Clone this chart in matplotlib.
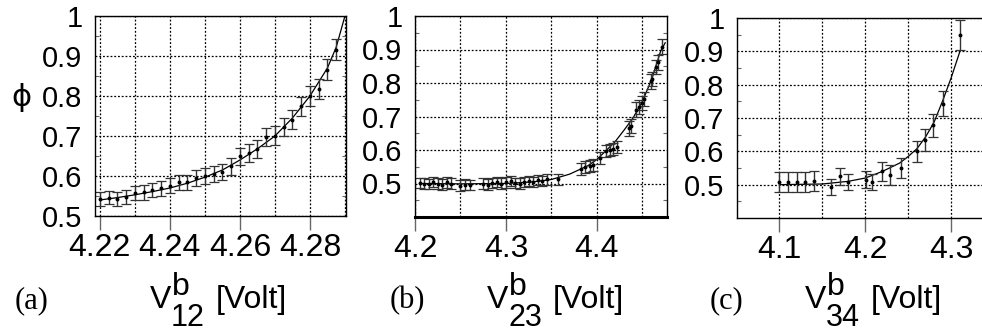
import numpy as np
import matplotlib.pyplot as plt
from matplotlib.ticker import FixedLocator, MultipleLocator, FuncFormatter

plt.rcParams['font.family'] = ['Liberation Sans', 'DejaVu Sans']

# (a) V12
xa = [4.22, 4.2225, 4.225, 4.2275, 4.23, 4.2325, 4.235, 4.2375, 4.24, 4.2425,
      4.245, 4.2475, 4.25, 4.2525, 4.255, 4.2575, 4.26, 4.2625, 4.265, 4.2675,
      4.27, 4.2725, 4.275, 4.2775, 4.28, 4.2825, 4.285, 4.2875]
ya = [0.543, 0.546, 0.543, 0.548, 0.558, 0.559, 0.565, 0.569, 0.576, 0.584,
      0.584, 0.594, 0.599, 0.605, 0.610, 0.624, 0.649, 0.657, 0.667, 0.697,
      0.701, 0.722, 0.741, 0.774, 0.799, 0.818, 0.866, 0.916]
ea = [0.017, 0.017, 0.017, 0.017, 0.018, 0.018, 0.018, 0.018, 0.019, 0.019,
      0.019, 0.020, 0.020, 0.020, 0.021, 0.021, 0.022, 0.022, 0.022, 0.023,
      0.023, 0.023, 0.024, 0.024, 0.025, 0.025, 0.026, 0.027]
fxa = [4.22, 4.225, 4.23, 4.235, 4.24, 4.245, 4.25, 4.255, 4.26, 4.265,
       4.27, 4.275, 4.28, 4.285, 4.2875, 4.29]
fya = [0.540, 0.546, 0.553, 0.561, 0.570, 0.582, 0.597, 0.615, 0.640, 0.668,
       0.700, 0.745, 0.800, 0.870, 0.922, 1.0]

# (b) V23
xb = [4.205, 4.21, 4.215, 4.22, 4.225, 4.23, 4.235, 4.24, 4.25, 4.255, 4.26,
      4.275, 4.28, 4.285, 4.29, 4.295, 4.30, 4.305, 4.31, 4.315, 4.32, 4.325,
      4.33, 4.335, 4.34, 4.345, 4.357,
      4.383, 4.387, 4.392, 4.396, 4.403, 4.41, 4.414, 4.418, 4.422,
      4.435, 4.437, 4.443, 4.446, 4.449, 4.452, 4.459, 4.461, 4.465, 4.467, 4.472]
yb = [0.502, 0.500, 0.498, 0.505, 0.500, 0.497, 0.503, 0.500, 0.494, 0.497, 0.495,
      0.500, 0.497, 0.502, 0.505, 0.500, 0.503, 0.507, 0.502, 0.500, 0.505, 0.508,
      0.504, 0.510, 0.507, 0.512, 0.512,
      0.543, 0.548, 0.552, 0.556, 0.575, 0.596, 0.600, 0.602, 0.608,
      0.665, 0.672, 0.720, 0.728, 0.740, 0.752, 0.805, 0.812, 0.848, 0.862, 0.908]
eb = [0.015] * 27 + [0.018] * 9 + [0.022] * 11
fxb = [4.205, 4.25, 4.30, 4.33, 4.35, 4.37, 4.39, 4.40, 4.41, 4.42, 4.43,
       4.44, 4.45, 4.46, 4.47, 4.475]
fyb = [0.500, 0.499, 0.500, 0.505, 0.512, 0.528, 0.553, 0.572, 0.598, 0.625,
       0.660, 0.697, 0.745, 0.810, 0.895, 0.920]

# (c) V34
xc = [4.10, 4.11, 4.12, 4.13, 4.14, 4.16, 4.17, 4.18, 4.201, 4.208, 4.219,
      4.229, 4.241, 4.26, 4.269, 4.279, 4.29, 4.31]
yc = [0.508, 0.508, 0.508, 0.508, 0.510, 0.493, 0.525, 0.508, 0.515, 0.508,
      0.540, 0.530, 0.550, 0.600, 0.633, 0.678, 0.743, 0.948]
ec = [0.030, 0.030, 0.030, 0.030, 0.030, 0.025, 0.025, 0.025, 0.025, 0.025,
      0.028, 0.030, 0.030, 0.032, 0.033, 0.035, 0.037, 0.045]
fxc = [4.10, 4.15, 4.18, 4.20, 4.22, 4.24, 4.25, 4.26, 4.27, 4.28, 4.29,
       4.30, 4.31]
fyc = [0.500, 0.502, 0.510, 0.520, 0.540, 0.565, 0.585, 0.608, 0.643, 0.688,
       0.752, 0.822, 0.900]

W, H = 982, 334
fig = plt.figure(figsize=(W / 100, H / 100), dpi=100)


def box(l, t, r, b):
    return [l / W, 1 - b / H, (r - l) / W, (b - t) / H]


panels = [
    dict(pos=box(95, 16, 346, 216), x=xa, y=ya, e=ea, fx=fxa, fy=fya,
         xlim=(4.2186, 4.2903), ylim=(0.5, 1.0), major=0.02, minor=0.01,
         fmt='%.2f', letter='(a)', sub='12', lx=15, vx=150),
    dict(pos=box(415, 16, 667, 217), x=xb, y=yb, e=eb, fx=fxb, fy=fyb,
         xlim=(4.2, 4.477), ylim=(0.4, 1.0), major=0.1, minor=0.05,
         fmt='%.1f', letter='(b)', sub='23', lx=390, vx=487),
    dict(pos=box(737, 18, 990, 218), x=xc, y=yc, e=ec, fx=fxc, fy=fyc,
         xlim=(4.0506, 4.345), ylim=(0.4, 1.0), major=0.1, minor=0.05,
         fmt='%.1f', letter='(c)', sub='34', lx=710, vx=805),
]


def yfmt(v, p):
    return '1' if abs(v - 1) < 1e-9 else '%.1f' % v


for i, p in enumerate(panels):
    ax = fig.add_axes(p['pos'])
    ax.plot(p['fx'], p['fy'], color='k', lw=0.9)
    ax.errorbar(p['x'], p['y'], yerr=p['e'], fmt='o', ms=1.8, color='k',
                ecolor='0.2', elinewidth=1.0, capsize=3.5, capthick=0.9)
    ax.set_xlim(*p['xlim'])
    ax.set_ylim(*p['ylim'])
    ax.xaxis.set_major_locator(MultipleLocator(p['major']))
    ax.xaxis.set_minor_locator(MultipleLocator(p['minor']))
    ax.xaxis.set_major_formatter(FuncFormatter(lambda v, q, f=p['fmt']: f % v))
    ax.yaxis.set_major_locator(FixedLocator([0.5, 0.6, 0.7, 0.8, 0.9, 1.0]))
    ax.yaxis.set_minor_locator(FixedLocator([0.45, 0.55, 0.65, 0.75, 0.85, 0.95]))
    ax.yaxis.set_major_formatter(FuncFormatter(yfmt))
    ax.grid(True, which='major', color='k', ls=(0, (1.5, 1.5)), lw=0.9)
    ax.grid(True, which='minor', axis='x', color='k', ls=(0, (1.5, 1.5)), lw=0.9)
    ax.tick_params(axis='x', which='major', direction='out', length=10,
                   width=1, pad=2, labelsize=23, color='0.4')
    ax.tick_params(axis='x', which='minor', length=0)
    ax.tick_params(axis='y', which='major', length=0, pad=9, labelsize=21)
    ax.tick_params(axis='y', which='minor', direction='in', length=3,
                   width=0.8, left=True, right=True, color='0.4')
    for s in ax.spines.values():
        s.set_linewidth(1.0)
    if i == 1:
        ax.spines['bottom'].set_linewidth(2.2)
    if i == 2:
        ax.spines['right'].set_visible(False)

    # x labels
    fig.text(p['lx'] / W, 1 - 308 / H, p['letter'], fontsize=22,
             family='Liberation Serif', va='baseline', ha='left')
    fig.text(p['vx'] / W, 1 - 308 / H, 'V', fontsize=23, va='baseline', ha='left')
    fig.text((p['vx'] + 22) / W, 1 - 295 / H, 'b', fontsize=23, va='baseline', ha='left')
    fig.text((p['vx'] + 21) / W, 1 - 326 / H, p['sub'], fontsize=22, va='baseline', ha='left')
    fig.text((p['vx'] + 66) / W, 1 - 308 / H, '[Volt]', fontsize=23, va='baseline', ha='left')

fig.text(21 / W, 1 - 97 / H, 'ϕ', fontsize=22, family='DejaVu Sans',
         va='center', ha='center')

fig.savefig('out.png', dpi=100)
